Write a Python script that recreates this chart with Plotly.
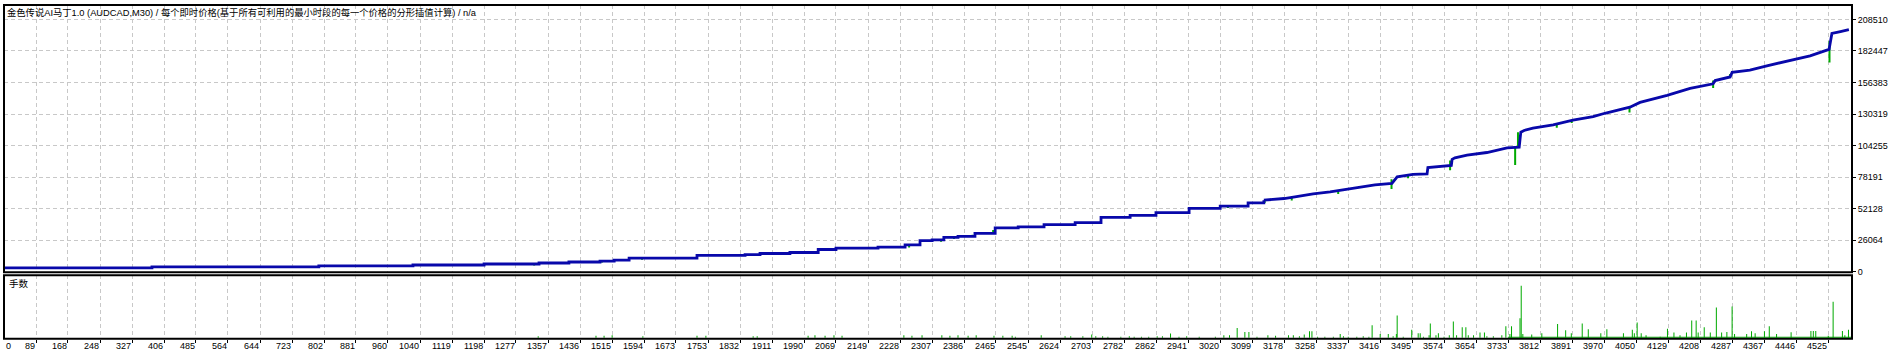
import plotly.graph_objects as go

W, H = 1896, 361


def px(x):
    return x / W


def py(y):
    return 1 - y / H


title_text = "金色传说AI马丁1.0 (AUDCAD,M30) / 每个即时价格(基于所有可利用的最小时段的每一个价格的分形插值计算) / n/a"
lots_label = "手数"

x_ticks = [0, 89, 168, 248, 327, 406, 485, 564, 644, 723, 802, 881, 960, 1040, 1119, 1198,
           1277, 1357, 1436, 1515, 1594, 1673, 1753, 1832, 1911, 1990, 2069, 2149, 2228, 2307,
           2386, 2465, 2545, 2624, 2703, 2782, 2862, 2941, 3020, 3099, 3178, 3258, 3337, 3416,
           3495, 3574, 3654, 3733, 3812, 3891, 3970, 4050, 4129, 4208, 4287, 4367, 4446, 4525]
y_ticks = [0, 26064, 52128, 78191, 104255, 130319, 156383, 182447, 208510]

# balance (blue), first part: flat runs between closed baskets (trade number -> balance)
bal_step_trade = [0, 376, 789, 1022, 1198, 1334, 1408, 1485, 1520, 1557, 1725, 1844, 1881,
                  1955, 2025, 2069, 2173, 2240, 2277, 2307, 2336, 2371, 2413, 2463, 2520, 2584,
                  2661, 2725, 2797, 2861, 2943, 3020, 3089, 3128]
bal_step_value = [3260, 4070, 4890, 5700, 6500, 7330, 8150, 8960, 9770, 11400, 13600, 14200,
                  15200, 16000, 18500, 19550, 20400, 22300, 25800, 26400, 28500, 29300, 31800,
                  36400, 37200, 39100, 40700, 45100, 46700, 48900, 52400, 54300, 57000, 59200]
# balance (blue), second part: densely rising section read as corner points
bal_ramp_trade = [3128, 3178, 3205, 3250, 3292, 3324, 3361, 3403, 3445, 3458, 3497, 3532,
                  3534, 3574, 3592, 3594, 3601, 3631, 3680, 3730, 3760, 3764, 3772, 3794, 3844,
                  3893, 3943, 3972, 4034, 4059, 4126, 4183, 4240, 4245, 4282, 4287, 4331, 4373,
                  4430, 4480, 4527, 4534, 4555, 4576]
bal_ramp_value = [59200, 60600, 62000, 64500, 66000, 67700, 69600, 71800, 73100, 78500, 80600,
                  81000, 86100, 87400, 88000, 92900, 94200, 96400, 98600, 102400, 103000,
                  115400, 116800, 118700, 121400, 125400, 128200, 131000, 136000, 140000,
                  145800, 151500, 155300, 158000, 161000, 164800, 166700, 170200, 174300,
                  178400, 183800, 196900, 198500, 200100]

# equity (green) excursions away from balance: trade number -> equity
eq_trade = [1322, 1490, 1589, 1861, 2018, 2250, 2271, 2329, 2361, 2407, 2458, 2645, 2705, 2933,
            3039, 3130, 3197, 3312, 3444, 3444, 3485, 3589, 3589, 3750, 3757, 3853, 3890, 4033,
            4240, 4240, 4282, 4528, 4528]
eq_value = [5200, 7650, 10100, 13100, 15500, 20100, 22000, 24800, 27200, 30700, 34500, 38500,
            40000, 47900, 52800, 56900, 59000, 64300, 68400, 76600, 77400, 83900, 92000, 88300,
            115400, 119000, 123000, 131700, 151800, 158000, 163500, 173000, 190600]

# lots per trade (lower panel)
lot_trade = [1332, 1475, 1495, 1515, 1591, 1725, 1747, 1864, 1874, 2000, 2017, 2042, 2064, 2084,
             2237, 2257, 2282, 2331, 2351, 2371, 2396, 2416, 2460, 2482, 2505,
             2513, 2577, 2636, 2650, 2680, 2702, 2712, 2729, 2742, 2774, 2795, 2807, 2825, 2843,
             2864, 2877, 2897, 2918, 2937, 2968, 3008, 3029, 3043, 3062, 3081, 3091, 3111, 3138,
             3157, 3189, 3201, 3216, 3228, 3241, 3247, 3261, 3279, 3300, 3317, 3325, 3337, 3358,
             3374, 3388, 3396, 3416, 3436, 3448, 3456, 3458, 3473, 3494, 3510, 3515, 3523, 3537,
             3540, 3554, 3560, 3574, 3587, 3597, 3605, 3619, 3628, 3634, 3647, 3663, 3674, 3680,
             3696, 3717, 3727, 3737, 3741, 3762, 3765, 3769, 3791, 3816, 3855, 3875, 3889, 3916,
             3931, 3962, 3977, 4018, 4040, 4045, 4052, 4062, 4074, 4109, 4127, 4143, 4158, 4174,
             4187, 4198, 4203, 4218, 4233, 4248, 4261, 4274, 4287, 4293, 4323, 4335, 4344, 4367,
             4379, 4397, 4433, 4482, 4488, 4494, 4525, 4537, 4560, 4566, 4575]
lot_size = [0.08, 0.10, 0.10, 0.13, 0.08, 0.10, 0.10, 0.08, 0.08, 0.10, 0.13, 0.10, 0.13, 0.10,
            0.13, 0.10, 0.13, 0.13, 0.10, 0.13, 0.10, 0.13, 0.10, 0.10, 0.10,
            0.05, 0.13, 0.08, 0.08, 0.08, 0.16, 0.08, 0.08, 0.05, 0.05, 0.08, 0.05, 0.05, 0.05,
            0.08, 0.08, 0.21, 0.05, 0.08, 0.05, 0.05, 0.13, 0.13, 0.49, 0.29, 0.29, 0.05, 0.13,
            0.10, 0.13, 0.13, 0.08, 0.16, 0.33, 0.33, 0.06, 0.06, 0.06, 0.19, 0.08, 0.06, 0.06,
            0.08, 0.06, 0.62, 0.19, 0.19, 0.08, 0.19, 1.10, 0.06, 0.40, 0.23, 0.23, 0.06, 0.13,
            0.71, 0.13, 0.23, 0.06, 0.13, 0.81, 0.13, 0.52, 0.52, 0.13, 0.13, 0.26, 0.26, 0.08,
            0.08, 0.13, 0.57, 0.19, 0.57, 0.97, 2.56, 0.19, 0.16, 0.23, 0.68, 0.37, 0.23, 0.71,
            0.42, 0.23, 0.42, 0.23, 0.40, 0.23, 0.76, 0.23, 0.13, 0.06, 0.45, 0.26, 0.13, 0.26,
            0.86, 0.86, 0.26, 0.52, 0.26, 1.49, 0.26, 0.29, 1.54, 0.19, 0.19, 0.33, 0.23, 0.33,
            0.57, 0.19, 0.28, 0.34, 0.34, 0.34, 0.10, 1.78, 0.34, 0.13, 0.40]
# continuous run of minimum-lot trades
base_start = [3732]
base_end = [4584]
base_lot = [0.06]

BLUE = "#0808aa"
GREEN = "#00aa00"
GRID = "#c8c8c8"
FONT = "Liberation Sans, Noto Sans CJK SC"
DASH = "4px,3px"


def balance_at(t):
    if t <= bal_step_trade[-1]:
        v = bal_step_value[0]
        for bt, bv in zip(bal_step_trade, bal_step_value):
            if bt <= t:
                v = bv
        return v
    for (t0, v0), (t1, v1) in zip(zip(bal_ramp_trade, bal_ramp_value),
                                  zip(bal_ramp_trade[1:], bal_ramp_value[1:])):
        if t0 <= t <= t1:
            return v0 + (v1 - v0) * (t - t0) / (t1 - t0)
    return bal_ramp_value[-1]


gx, gy = [], []
for t, v in zip(eq_trade, eq_value):
    gx += [t, t, None]
    gy += [balance_at(t), v, None]

fig = go.Figure()
fig.add_trace(go.Scatter(x=gx, y=gy, mode="lines", line=dict(color=GREEN, width=2),
                         xaxis="x", yaxis="y", hoverinfo="skip"))
fig.add_trace(go.Scatter(x=bal_step_trade, y=bal_step_value, mode="lines", line_shape="hv",
                         line=dict(color=BLUE, width=2.8), xaxis="x", yaxis="y",
                         hoverinfo="skip"))
fig.add_trace(go.Scatter(x=bal_ramp_trade, y=bal_ramp_value, mode="lines",
                         line=dict(color=BLUE, width=2.8), xaxis="x", yaxis="y",
                         hoverinfo="skip"))
fig.add_trace(go.Bar(x=[(s + e) / 2 for s, e in zip(base_start, base_end)],
                     width=[e - s for s, e in zip(base_start, base_end)], y=base_lot,
                     marker=dict(color=GREEN, line=dict(width=0)), xaxis="x", yaxis="y2",
                     hoverinfo="skip"))
fig.add_trace(go.Bar(x=lot_trade, y=lot_size, width=2.5,
                     marker=dict(color=GREEN, line=dict(width=0)), xaxis="x", yaxis="y2",
                     hoverinfo="skip"))

X_L, X_R = 4, 1852
x_range = [(X_L - 0.04) / 0.40403, (X_R - 0.04) / 0.40403]
Y_TOP, Y_BOT = 5, 276
y_range = [(275.7 - Y_BOT) * 814.5, (275.7 - Y_TOP) * 814.5]
L_TOP, L_BOT = 279, 343.5
l_range = [(342.6 - L_BOT) / 20.6, (342.6 - L_TOP) / 20.6]

TF = dict(family=FONT, size=9, color="black")
annotations = [
    dict(text=title_text, x=px(5), y=py(13), xref="paper", yref="paper", xanchor="left",
         yanchor="middle", showarrow=False, font=dict(family=FONT, size=9.3, color="black")),
    dict(text=lots_label, x=px(7), y=py(287), xref="paper", yref="paper", xanchor="left",
         yanchor="middle", showarrow=False, font=dict(family=FONT, size=9.5, color="black")),
    dict(text=str(x_ticks[0]), x=px(4), y=py(351), xref="paper", yref="paper", xanchor="left",
         yanchor="middle", showarrow=False, font=TF),
]
for v in x_ticks[1:]:
    annotations.append(dict(text=str(v), x=v, y=py(351), xref="x", yref="paper",
                            xanchor="right", yanchor="middle", showarrow=False, xshift=1,
                            font=TF))

shapes = [
    dict(type="rect", xref="paper", yref="paper", x0=px(X_L), x1=px(X_R), y0=py(Y_BOT),
         y1=py(Y_TOP), line=dict(color="black", width=2), layer="above"),
    dict(type="rect", xref="paper", yref="paper", x0=px(X_L), x1=px(X_R), y0=py(L_BOT),
         y1=py(L_TOP), line=dict(color="black", width=2), layer="above"),
]

fig.update_layout(
    width=W, height=H, margin=dict(l=0, r=0, t=0, b=0, pad=0),
    paper_bgcolor="white", plot_bgcolor="white", showlegend=False, barmode="overlay",
    hovermode=False,
    font=dict(family=FONT, size=9, color="black"),
    xaxis=dict(domain=[px(X_L), px(X_R)], range=x_range, anchor="y2", tickvals=x_ticks[1:],
               ticks="outside", ticklen=3, tickcolor="black", tickwidth=1,
               showticklabels=False, showgrid=True, gridcolor=GRID, griddash=DASH,
               gridwidth=1, zeroline=False, showline=False, fixedrange=True),
    yaxis=dict(domain=[py(Y_BOT), py(Y_TOP)], range=y_range, anchor="x", side="right",
               tickvals=y_ticks, ticktext=[str(v) for v in y_ticks], ticks="outside",
               ticklen=3, tickcolor="black", tickwidth=1, showgrid=True, gridcolor=GRID,
               griddash=DASH, gridwidth=1, zeroline=False, showline=False,
               tickfont=TF, fixedrange=True),
    yaxis2=dict(domain=[py(L_BOT), py(L_TOP)], range=l_range, anchor="x", showgrid=False,
                showticklabels=False, ticks="", zeroline=False, showline=False,
                fixedrange=True),
    annotations=annotations,
    shapes=shapes,
)

fig.write_html("out.html", config={"displayModeBar": False, "staticPlot": True})
